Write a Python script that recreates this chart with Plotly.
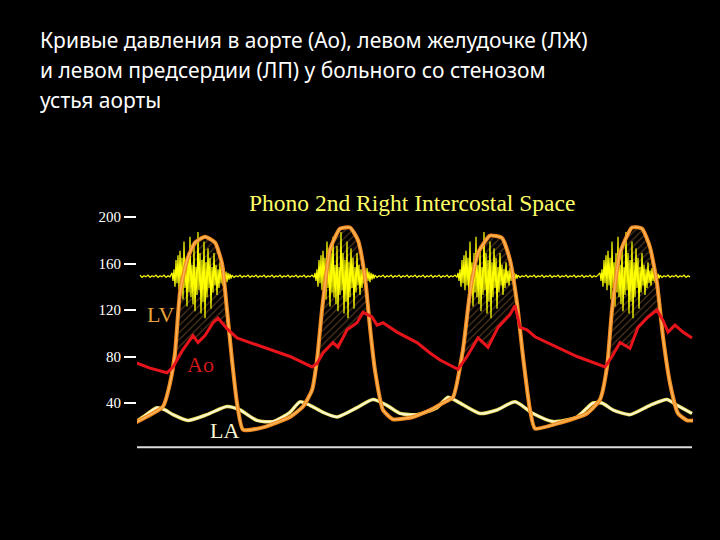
import numpy as np
import plotly.graph_objects as go

# time axis in screen units, pressures in mm Hg
lv_t = [135, 163, 170, 175, 180, 187, 195, 205, 215, 222, 227, 232, 237, 243, 263, 290, 303, 312, 317, 322,
        330, 340, 350, 358, 365, 370, 375, 383, 393, 413, 430, 443, 453, 463, 470, 478, 490, 502, 510, 517,
        523, 530, 535, 560, 587, 600, 607, 612, 620, 632, 642, 650, 657, 663, 670, 678, 687, 693]
lv_p = [23, 37, 57, 83, 135, 163, 178, 183, 178, 160, 120, 77, 40, 17, 19, 28, 37, 51, 77, 120,
        172, 190, 191, 180, 148, 105, 68, 34, 26, 28, 34, 40, 45, 86, 135, 169, 184, 182, 163, 126,
        80, 34, 18, 23, 31, 43, 71, 120, 169, 191, 190, 174, 143, 97, 57, 31, 25, 25]

ao_t = [135, 150, 167, 173, 183, 193, 198, 205, 213, 218, 227, 237, 250, 270, 290, 312, 317, 323, 333, 338,
        347, 357, 363, 372, 377, 383, 397, 417, 430, 440, 458, 467, 478, 488, 498, 510, 515, 520, 527, 535,
        553, 577, 605, 612, 620, 630, 638, 648, 657, 663, 668, 675, 683, 692]
ao_p = [75, 70, 66, 71, 86, 98, 92, 98, 109, 113, 104, 96, 92, 86, 80, 71, 74, 83, 92, 88,
        103, 109, 118, 114, 107, 109, 101, 92, 83, 77, 69, 80, 96, 88, 105, 116, 124, 105, 103, 97,
        90, 80, 71, 80, 92, 87, 105, 114, 120, 111, 101, 107, 101, 96]

la_t = [135, 143, 157, 165, 173, 188, 207, 227, 240, 257, 273, 290, 300, 310, 323, 337, 357, 373, 387, 400,
        417, 437, 448, 458, 480, 497, 515, 533, 553, 577, 593, 602, 613, 630, 650, 667, 677, 692]
la_p = [23, 28, 36, 34, 30, 25, 30, 37, 34, 25, 24, 32, 41, 38, 32, 28, 36, 43, 38, 31,
        30, 36, 45, 41, 31, 34, 41, 31, 24, 28, 40, 40, 34, 30, 38, 43, 38, 31]

phono_base = 149
phono_starts = [172, 315, 458, 600]
burst = [3, -4, 6, -9, 14, -6, 18, -12, 22, -8, 16, -20, 30, -10, 12, -26, 20, -14, 34, -18,
         10, -24, 26, -30, 8, -16, 38, -12, 20, -32, 14, -22, 30, -36, 12, -18, 24, -10, 16, -28,
         8, -14, 20, -8, 10, -16, 6, -10, 12, -6, 5, -8, 7, -4, 4, -5, 3, -3, 2, -2]
quiet = [1, -1, 0.5, -0.5]

y_ticks = [200, 160, 120, 80, 40]

# build phono trace
ph_t, ph_p = [], []
t = 140
for s in phono_starts + [692]:
    i = 0
    while t < s:
        ph_t.append(t)
        ph_p.append(phono_base + quiet[i % 4])
        t += 2
        i += 1
    if s == 692:
        break
    for k, d in enumerate(burst):
        ph_t.append(s + k)
        ph_p.append(phono_base + d)
    t = s + len(burst)

# grid for hatched area between LV and Ao
grid = np.arange(135, 693, 1.0)
ao_g = np.interp(grid, ao_t, ao_p)
lv_g = np.interp(grid, lv_t, lv_p)
top = np.maximum(ao_g, lv_g)

fig = go.Figure()
fig.add_trace(go.Scatter(x=grid, y=ao_g, mode="lines", line=dict(width=0), hoverinfo="skip"))
fig.add_trace(go.Scatter(x=grid, y=top, mode="lines", line=dict(width=0), fill="tonexty",
                         fillcolor="rgba(0,0,0,0)",
                         fillpattern=dict(shape="/", fgcolor="#9a6a3a", bgcolor="rgba(0,0,0,0)",
                                          size=5, solidity=0.25),
                         hoverinfo="skip"))
fig.add_trace(go.Scatter(x=ph_t, y=ph_p, mode="lines", line=dict(color="#ffff00", width=1.2)))
fig.add_trace(go.Scatter(x=la_t, y=la_p, mode="lines", line=dict(color="#e8d84a", width=3.5, shape="spline", smoothing=0.6)))
fig.add_trace(go.Scatter(x=la_t, y=la_p, mode="lines", line=dict(color="#fbf6d2", width=2, shape="spline", smoothing=0.6)))
fig.add_trace(go.Scatter(x=lv_t, y=lv_p, mode="lines", line=dict(color="#f28a1e", width=4, shape="spline", smoothing=0.5)))
fig.add_trace(go.Scatter(x=lv_t, y=lv_p, mode="lines", line=dict(color="#f8b45a", width=1.5, shape="spline", smoothing=0.5)))
fig.add_trace(go.Scatter(x=ao_t, y=ao_p, mode="lines", line=dict(color="#e8141b", width=3)))

# px -> mmHg: v = (449.5 - py) / 1.1625 ; figure spans 0..540 px
fig.update_layout(
    width=720, height=540, showlegend=False,
    paper_bgcolor="black", plot_bgcolor="black",
    margin=dict(l=137, r=0, t=0, b=0),
    xaxis=dict(range=[137, 720], visible=False),
    yaxis=dict(range=[(449.5 - 540) / 1.1625, 449.5 / 1.1625], tickvals=y_ticks,
               ticks="outside", ticklen=12, tickwidth=2, tickcolor="white",
               showgrid=False, zeroline=False, showline=False,
               tickfont=dict(family="Liberation Serif", size=15, color="white")),
    font=dict(family="Liberation Serif"),
)

fig.add_shape(type="line", x0=135, x1=692, y0=2, y1=2, line=dict(color="#dddddd", width=2), xref="x", yref="y")

title_lines = ["Кривые давления в аорте (Ао), левом желудочке (ЛЖ)",
               "и левом предсердии (ЛП) у больного со стенозом",
               "устья аорты"]
for i, line in enumerate(title_lines):
    fig.add_annotation(xref="paper", yref="paper", x=(38 - 137) / 583, y=1 - (40 + 30 * i) / 540,
                       text=line, showarrow=False, xanchor="left", yanchor="middle",
                       font=dict(family="Noto Sans", size=21, color="white"))

labels = [("Phono 2nd Right Intercostal Space", 412, 212, "#ffff66", 23.5),
          ("LV", 160, 116, "#e8a23a", 22),
          ("Ao", 200, 73, "#d01818", 22),
          ("LA", 224, 16, "#fbf6d2", 22),
          ("mm.Hg", 116, 10, "white", 11)]
for text, x, y, c, s in labels:
    fig.add_annotation(x=x, y=y, text=text, showarrow=False, font=dict(family="Liberation Serif", size=s, color=c))

fig.write_html("out.html", config={"displayModeBar": False})

# drop the page margin so the figure sits at the window corner
with open("out.html", encoding="utf-8") as f:
    page = f.read()
page = page.replace("<body>", '<body style="margin:0">', 1)
with open("out.html", "w", encoding="utf-8") as f:
    f.write(page)
